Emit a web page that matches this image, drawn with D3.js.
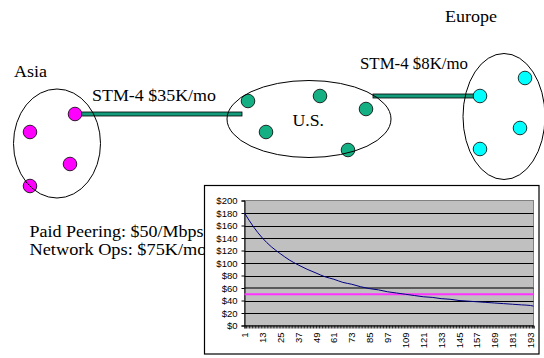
<!DOCTYPE html>
<html>
<head>
<meta charset="utf-8">
<script src="https://cdn.jsdelivr.net/npm/d3@7/dist/d3.min.js"></script>
<style>
  html, body { margin: 0; padding: 0; background: #fff; }
  svg { display: block; }
</style>
</head>
<body>
<svg id="chart" width="544" height="358"></svg>
<script>
// Per-Mbps cost curve (month index -> $ per Mbps), sampled every 6 months
const months = [1, 7, 13, 19, 25, 31, 37, 43, 49, 55, 61, 67, 73, 79, 85, 91, 97, 103,
  109, 115, 121, 127, 133, 139, 145, 151, 157, 163, 169, 175, 181, 187, 193, 195];
const costPerMbps = [180, 158, 140, 126, 115, 105, 97, 90, 84, 78, 74, 69, 66, 62, 59, 57, 54, 52,
  50, 48, 46, 45, 43, 42, 40, 39, 38, 37, 36, 35, 34, 33, 32, 31];
// Flat paid-peering price and the reference level drawn in grey
const peeringPrice = 50;
const referenceLevel = 60;

// Axis labels
const xTickLabels = [1, 13, 25, 37, 49, 61, 73, 85, 97, 109, 121, 133, 145, 157, 169, 181, 193];
const yTickValues = [0, 20, 40, 60, 80, 100, 120, 140, 160, 180, 200];
const lastMonth = 195;

// Network diagram content
const regions = ["Asia", "U.S.", "Europe"];
const regionColors = ["#ff00ff", "#14b084", "#00ffff"];
const asiaNodes = [[75, 114], [30, 132], [70, 164], [30, 186]];
const usNodes = [[248, 101], [320, 96], [366, 109], [266, 132], [348, 150]];
const europeNodes = [[480, 96], [525, 78], [520, 128], [480, 149]];
const linkLabels = ["STM-4 $35K/mo", "STM-4 $8K/mo"];
const costNotes = ["Paid Peering: $50/Mbps", "Network Ops: $75K/mo"];

const svg = d3.select("#chart");
const serif = "'Liberation Serif', 'Times New Roman', serif";
const sans = "'Liberation Sans', Arial, sans-serif";

// ---- Region ellipses, nodes and links ----
const linkColor = "#139c7c";
const links = [
  { x: 80, y: 112, w: 162, h: 4 },
  { x: 373, y: 94, w: 101, h: 4 }
];
svg.selectAll("rect.link").data(links).join("rect")
  .attr("class", "link")
  .attr("x", d => d.x).attr("y", d => d.y)
  .attr("width", d => d.w).attr("height", d => d.h)
  .attr("fill", linkColor).attr("stroke", "#000").attr("stroke-width", 0.8);

const nodeGroups = [asiaNodes, usNodes, europeNodes];
nodeGroups.forEach((nodes, i) => {
  svg.append("g").selectAll("circle").data(nodes).join("circle")
    .attr("cx", d => d[0]).attr("cy", d => d[1]).attr("r", 6.8)
    .attr("fill", regionColors[i]).attr("stroke", "#000").attr("stroke-width", 0.8);
});

const ellipses = [
  { cx: 57, cy: 143.5, rx: 43.5, ry: 54.5 },
  { cx: 309, cy: 119, rx: 82, ry: 38.5 },
  { cx: 504, cy: 116.5, rx: 41, ry: 63 }
];
svg.selectAll("ellipse").data(ellipses).join("ellipse")
  .attr("cx", d => d.cx).attr("cy", d => d.cy)
  .attr("rx", d => d.rx).attr("ry", d => d.ry)
  .attr("fill", "none").attr("stroke", "#000").attr("stroke-width", 1);

// Labels in the wide Times face of the diagram; width pins each run
const diagramText = [
  { t: regions[0], x: 14, y: 77, w: 33 },
  { t: regions[1], x: 292.5, y: 126, w: 31.5 },
  { t: regions[2], x: 445, y: 22, w: 52 },
  { t: linkLabels[0], x: 92, y: 101, w: 124 },
  { t: linkLabels[1], x: 360, y: 68.5, w: 108 },
  { t: costNotes[0], x: 29.5, y: 237, w: 174 },
  { t: costNotes[1], x: 29.5, y: 254.5, w: 177 }
];
svg.selectAll("text.diag").data(diagramText).join("text")
  .attr("class", "diag")
  .attr("x", d => d.x).attr("y", d => d.y)
  .attr("font-family", serif).attr("font-size", 16.8)
  .attr("textLength", d => d.w).attr("lengthAdjust", "spacingAndGlyphs")
  .attr("fill", "#000")
  .text(d => d.t);

// ---- Embedded cost chart ----
svg.append("rect")
  .attr("x", 204.5).attr("y", 185.5).attr("width", 334.5).attr("height", 168.5)
  .attr("fill", "#fff").attr("stroke", "#000").attr("stroke-width", 1.2);

const plot = { left: 244.5, right: 533.5, top: 200.5, bottom: 325.5 };

const x = d3.scaleLinear().domain([1, lastMonth]).range([plot.left, plot.right]);
const y = d3.scaleLinear().domain([0, 200]).range([plot.bottom, plot.top]);

svg.append("rect")
  .attr("x", plot.left).attr("y", plot.top)
  .attr("width", plot.right - plot.left).attr("height", plot.bottom - plot.top)
  .attr("fill", "#c0c0c0").attr("stroke", "#808080").attr("stroke-width", 1);

// Horizontal gridlines
svg.append("g").selectAll("line").data(yTickValues.filter(v => v > 0 && v < 200)).join("line")
  .attr("x1", plot.left).attr("x2", plot.right)
  .attr("y1", d => Math.round(y(d)) + 0.5).attr("y2", d => Math.round(y(d)) + 0.5)
  .attr("stroke", "#000").attr("stroke-width", 1);

// Grey reference level
svg.append("line")
  .attr("x1", plot.left).attr("x2", plot.right)
  .attr("y1", y(referenceLevel)).attr("y2", y(referenceLevel))
  .attr("stroke", "#5a5a5a").attr("stroke-width", 2);

// Y axis
const yAxis = d3.axisLeft(y).tickValues(yTickValues).tickSize(3).tickFormat(d => "$" + d);
const gy = svg.append("g").attr("transform", `translate(${plot.left},0)`).call(yAxis);
gy.select(".domain").attr("stroke", "#000");
gy.selectAll(".tick line").attr("stroke", "#000");
gy.selectAll("text").attr("font-family", sans).attr("font-size", 9.5).attr("fill", "#000").attr("dx", "-1");

// X axis: a tick on every month, labels every 12
const xAxis = d3.axisBottom(x)
  .tickValues(d3.range(1, lastMonth + 1))
  .tickSize(3)
  .tickFormat(d => xTickLabels.includes(d) ? String(d) : "");
const gx = svg.append("g").attr("transform", `translate(0,${plot.bottom})`).call(xAxis);
gx.select(".domain").attr("stroke", "#000");
gx.selectAll(".tick line").attr("stroke", "#000").attr("stroke-width", 0.8);
gx.selectAll("text")
  .attr("font-family", sans).attr("font-size", 9.5).attr("fill", "#000")
  .attr("transform", "rotate(-90)")
  .attr("text-anchor", "end")
  .attr("x", -7).attr("y", 0).attr("dy", "0.32em");

// Peering price line
svg.append("line")
  .attr("x1", plot.left).attr("x2", plot.right)
  .attr("y1", y(peeringPrice)).attr("y2", y(peeringPrice))
  .attr("stroke", "#ff33ff").attr("stroke-width", 2);

// Cost per Mbps curve
const line = d3.line()
  .x((d, i) => x(months[i]))
  .y(d => y(d))
  .curve(d3.curveMonotoneX);
svg.append("path")
  .attr("d", line(costPerMbps))
  .attr("fill", "none").attr("stroke", "#000080").attr("stroke-width", 1);
</script>
</body>
</html>
